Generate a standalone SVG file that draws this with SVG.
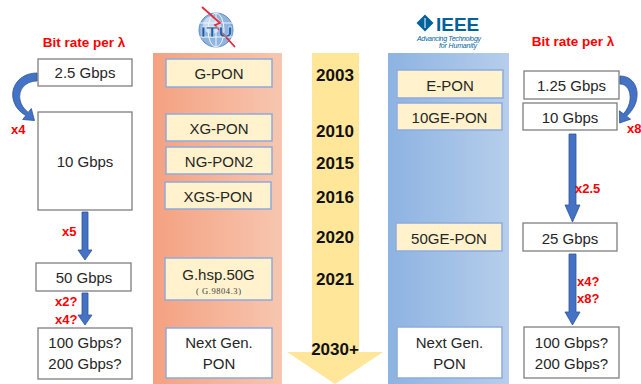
<svg xmlns="http://www.w3.org/2000/svg" width="641" height="384" viewBox="0 0 641 384">
<defs>
<linearGradient id="gOr" x1="0" y1="0" x2="1" y2="0">
<stop offset="0" stop-color="#F4A181"/><stop offset="1" stop-color="#F7C6AF"/>
</linearGradient>
<linearGradient id="gBl" x1="0" y1="0" x2="1" y2="0">
<stop offset="0" stop-color="#8DB3E2"/><stop offset="1" stop-color="#B6CEEB"/>
</linearGradient>
</defs>
<style>
.box{fill:#FFFFFF;stroke:#7F7F7F;stroke-width:1.3}
.std{fill:#FFF2CC;stroke:#8EAADB;stroke-width:1.5}
.ng{fill:#FFFFFF;stroke:#8EAADB;stroke-width:1.5}
.t{font-family:"Liberation Sans",Arial,sans-serif;font-size:15px;fill:#262626;text-anchor:middle}
.yr{font-family:"Liberation Sans",Arial,sans-serif;font-size:17px;font-weight:bold;fill:#111111;text-anchor:middle}
.red{font-family:"Liberation Sans",Arial,sans-serif;font-size:13px;font-weight:bold;fill:#FF0000}
.hd{font-family:"Liberation Sans",Arial,sans-serif;font-size:13.5px;font-weight:bold;fill:#FF0000;text-anchor:middle}
.arr{fill:#4472C4;stroke:#2F5597;stroke-width:0.8}
</style>
<rect width="641" height="384" fill="#FFFFFF"/>

<!-- columns -->
<rect id="itu-col" x="153" y="53" width="129" height="331" fill="url(#gOr)"/>
<rect id="ieee-col" x="388" y="53" width="121" height="331" fill="url(#gBl)"/>
<g id="timeline">
<path d="M312,53 H359 V352 H383 L335,384 L287,352 H312 Z" fill="#FFE699"/>
<text class="yr" x="335" y="81">2003</text>
<text class="yr" x="335" y="137">2010</text>
<text class="yr" x="335" y="168.5">2015</text>
<text class="yr" x="335" y="203">2016</text>
<text class="yr" x="335" y="243">2020</text>
<text class="yr" x="335" y="285">2021</text>
<text class="yr" x="335" y="355">2030+</text>
</g>

<!-- logos -->
<g id="itu-logo">
<circle cx="216" cy="30" r="17" fill="#8FB5DE" stroke="#5B8EC4" stroke-width="1"/>
<circle cx="212" cy="25" r="9" fill="#D4E4F4" opacity="0.8"/>
<ellipse cx="216" cy="30" rx="8" ry="17" fill="none" stroke="#EEF4FB" stroke-width="1"/>
<path d="M200,23 H232 M200,37 H232 M216,13 V47" stroke="#EEF4FB" stroke-width="1" fill="none"/>
<path d="M202,7 L220,23 L215,25 L235,47" fill="none" stroke="#E8283C" stroke-width="1.8"/>
<text x="216.5" y="37" font-family="Liberation Sans,Arial,sans-serif" font-size="14.5" font-weight="bold" fill="#1A5BA6" stroke="#FFFFFF" stroke-width="0.3" text-anchor="middle" textLength="32" lengthAdjust="spacingAndGlyphs">ITU</text>
</g>
<g id="ieee-logo">
<path d="M425,14.5 L433.5,23 L425,31.5 L416.5,23 Z" fill="#00629B"/>
<path d="M425,18 V28" stroke="#FFFFFF" stroke-width="1"/>
<text x="436" y="31" font-family="Liberation Sans,Arial,sans-serif" font-size="19" font-weight="bold" fill="#00629B">IEEE</text>
<text x="417" y="41" font-family="Liberation Sans,Arial,sans-serif" font-size="7" font-style="italic" fill="#00629B" textLength="64">Advancing Technology</text>
<text x="439" y="48" font-family="Liberation Sans,Arial,sans-serif" font-size="7" font-style="italic" fill="#00629B" textLength="38">for Humanity</text>
</g>

<!-- headings -->
<text id="left-heading" class="hd" x="84" y="47">Bit rate per λ</text>
<text id="right-heading" class="hd" x="573" y="46">Bit rate per λ</text>

<!-- left bit-rate nodes -->
<g id="l-2g5"><rect class="box" x="38" y="59" width="94" height="27"/><text class="t" x="85" y="78">2.5 Gbps</text></g>
<g id="l-10g"><rect class="box" x="38" y="112" width="94" height="98"/><text class="t" x="85" y="167">10 Gbps</text></g>
<g id="l-50g"><rect class="box" x="36" y="263" width="95" height="28"/><text class="t" x="84" y="283">50 Gbps</text></g>
<g id="l-100g"><rect class="box" x="38" y="328" width="94" height="51"/><text class="t" x="85" y="348">100 Gbps?</text><text class="t" x="85" y="369">200 Gbps?</text></g>

<!-- ITU standards -->
<g id="gpon"><rect class="std" x="166" y="59" width="106" height="28"/><text class="t" x="219" y="79">G-PON</text></g>
<g id="xgpon"><rect class="std" x="166" y="114" width="106" height="27"/><text class="t" x="219" y="134">XG-PON</text></g>
<g id="ngpon2"><rect class="std" x="166" y="147" width="106" height="27"/><text class="t" x="219" y="167">NG-PON2</text></g>
<g id="xgspon"><rect class="std" x="165" y="182" width="106" height="27"/><text class="t" x="218" y="202">XGS-PON</text></g>
<g id="ghsp"><rect class="std" x="165" y="258" width="107" height="42"/><text class="t" x="218.5" y="280">G.hsp.50G</text><text x="218.5" y="294" font-family="Liberation Serif,Times New Roman,serif" font-size="8.5" fill="#404040" text-anchor="middle" textLength="45">( G.9804.3)</text></g>
<g id="itu-next"><rect class="ng" x="166" y="328" width="106" height="50"/><text class="t" x="219" y="348">Next Gen.</text><text class="t" x="219" y="369">PON</text></g>

<!-- IEEE standards -->
<g id="epon"><rect class="std" x="397" y="70" width="106" height="28"/><text class="t" x="450" y="91">E-PON</text></g>
<g id="10gepon"><rect class="std" x="397" y="103" width="105" height="27"/><text class="t" x="449.5" y="123">10GE-PON</text></g>
<g id="50gepon"><rect class="std" x="396" y="223" width="106" height="28"/><text class="t" x="449" y="244">50GE-PON</text></g>
<g id="ieee-next"><rect class="ng" x="397" y="327" width="105" height="51"/><text class="t" x="449.5" y="348">Next Gen.</text><text class="t" x="449.5" y="369">PON</text></g>

<!-- right bit-rate nodes -->
<g id="r-1g25"><rect class="box" x="524" y="71" width="95" height="28"/><text class="t" x="571.5" y="91">1.25 Gbps</text></g>
<g id="r-10g"><rect class="box" x="523" y="103" width="94" height="27"/><text class="t" x="570" y="123">10 Gbps</text></g>
<g id="r-25g"><rect class="box" x="523" y="223" width="94" height="28"/><text class="t" x="570" y="244">25 Gbps</text></g>
<g id="r-100g"><rect class="box" x="524" y="327" width="95" height="51"/><text class="t" x="571.5" y="348">100 Gbps?</text><text class="t" x="571.5" y="369">200 Gbps?</text></g>

<!-- connectors -->
<g id="connectors">
<path class="arr" d="M37,73 C19,73 9,88 14,102 C16,108 20,112 25.8,115.6 L22.7,119.5 L34.5,120.5 L31.3,108.5 L28.2,112.4 C24,109 21,105 20,100 C18,90 25,81 37,81 Z"/>
<path class="arr" d="M620,76 C633,76 640,88 636,102 C634,108 631,112 626.6,116.2 L630.6,119.2 L619.6,123 L619.4,110.8 L623.4,113.8 C627,110 629.5,105 630,100 C631,91 627,84 620,84 Z"/>
<path class="arr" d="M82,212 H88 V250 H92 L85,260 L78,250 H82 Z"/>
<path class="arr" d="M82,293 H88 V315 H92 L85,325 L78,315 H82 Z"/>
<path class="arr" d="M569,134 H576 V205 H580 L572.5,222 L565,205 H569 Z"/>
<path class="arr" d="M569,254 H576 V312 H580 L572.5,325 L565,312 H569 Z"/>
</g>

<!-- multiplier labels -->
<g id="labels">
<text class="red" x="11" y="134">x4</text>
<text class="red" x="62" y="236">x5</text>
<text class="red" x="55" y="306">x2?</text>
<text class="red" x="55" y="324">x4?</text>
<text class="red" x="627" y="133">x8</text>
<text class="red" x="575" y="193">x2.5</text>
<text class="red" x="577" y="286">x4?</text>
<text class="red" x="577" y="303">x8?</text>
</g>
</svg>
